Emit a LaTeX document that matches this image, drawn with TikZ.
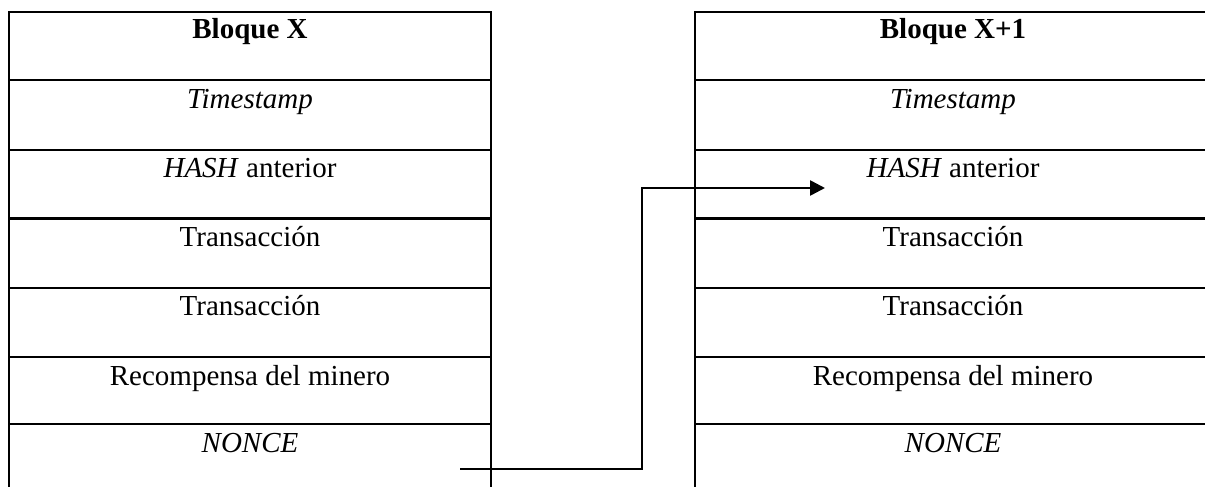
\documentclass[tikz,border=0pt]{standalone}
\usepackage{fontspec}
\setmainfont{Liberation Serif}
\usetikzlibrary{arrows.meta}
\begin{document}
\begin{tikzpicture}[x=1pt,y=-1pt,
  tline/.style={line width=2.6pt},
  celltext/.style={anchor=base,inner sep=0pt,font=\fontsize{29}{34}\selectfont},
  conn/.style={line width=2.6pt,-{Triangle[length=15pt,width=15pt]}}]
\useasboundingbox (0,0) rectangle (1205,487);
% left table
\draw[tline] (9,487) -- (9,12) -- (491,12) -- (491,487);
\foreach \y in {80,150,218.5,288,357,424}{\draw[tline] (9,\y) -- (491,\y);}
% right table
\draw[tline] (695,487) -- (695,12) -- (1205,12);
\foreach \y in {80,150,218.5,288,357,424}{\draw[tline] (695,\y) -- (1205,\y);}
% left texts
\node[celltext] (l0) at (250,39) {\textbf{Bloque X}};
\node[celltext] (l1) at (250,108) {\textit{Timestamp}};
\node[celltext] (l2) at (250,177) {\textit{HASH} anterior};
\node[celltext] (l3) at (250,246) {Transacción};
\node[celltext] (l4) at (250,315) {Transacción};
\node[celltext] (l5) at (250,385) {Recompensa del minero};
\node[celltext] (l6) at (250,452) {\textit{NONCE}};
% right texts
\node[celltext] (r0) at (953,39) {\textbf{Bloque X+1}};
\node[celltext] (r1) at (953,108) {\textit{Timestamp}};
\node[celltext] (r2) at (953,177) {\textit{HASH} anterior};
\node[celltext] (r3) at (953,246) {Transacción};
\node[celltext] (r4) at (953,315) {Transacción};
\node[celltext] (r5) at (953,385) {Recompensa del minero};
\node[celltext] (r6) at (953,452) {\textit{NONCE}};
% connector
\coordinate (src) at (460,469);
\coordinate (dst) at (825,188);
\draw[conn] (src) -- (642,469) -- (642,188) -- (dst);
\end{tikzpicture}
\end{document}
